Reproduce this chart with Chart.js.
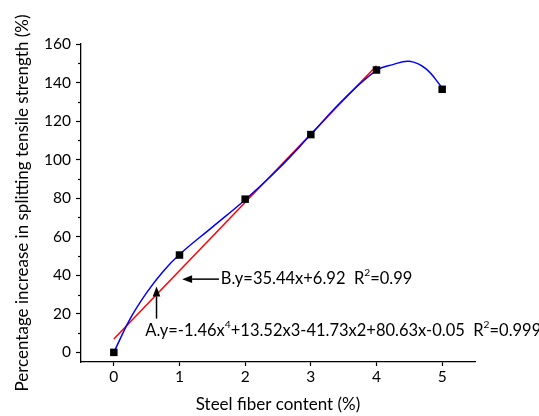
<!DOCTYPE html>
<html><head><meta charset="utf-8">
<script src="https://cdn.jsdelivr.net/npm/chart.js@4/dist/chart.umd.min.js"></script>
<style>html,body{margin:0;padding:0;background:#fff}#wrap{width:539px;height:416px}</style>
</head><body><div id="wrap"><canvas id="c" width="539" height="416"></canvas></div>
<script>
// Measured data points
const fiberContent = [0, 1, 2, 3, 4, 5];
const strengthIncrease = [0, 50.5, 79.5, 113, 146.5, 136.5];
// Curve A (polynomial fit)
const polyFitX = [0, 0.25, 0.5, 0.75, 1, 1.5, 2, 2.5, 3, 3.5, 4, 4.25, 4.5, 4.75, 5];
const polyFitY = [0, 17.5, 31, 42, 50.8, 65, 79.2, 95, 113, 131.3, 146.3, 149.3, 151, 147.2, 137.3];
// Line B (linear fit) end points
const linearFitX = [0, 4];
const linearFitY = [6.9, 148.7];
// Axis ticks
const xTickValues = [0, 1, 2, 3, 4, 5];
const yTickValues = [0, 20, 40, 60, 80, 100, 120, 140, 160];
const yMinorTickValues = [10, 30, 50, 70, 90, 110, 130, 150];
// Annotation texts
const labelB = [{t:'B.y=35.44x+6.92  R'},{t:'2',sup:true},{t:'=0.99'}];
const labelA = [{t:'A.y=-1.46x'},{t:'4',sup:true},{t:'+13.52x3-41.73x2+80.63x-0.05  R'},{t:'2',sup:true},{t:'=0.999'}];

const FONT = 'Lato';

function drawRich(ctx, parts, x, y, size) {
  ctx.textBaseline = 'middle';
  ctx.textAlign = 'left';
  ctx.fillStyle = '#000';
  let cx = x;
  for (const p of parts) {
    if (p.sup) {
      ctx.font = (size * 0.62) + 'px ' + FONT;
      ctx.fillText(p.t, cx, y - size * 0.36);
    } else {
      ctx.font = size + 'px ' + FONT;
      ctx.fillText(p.t, cx, y);
    }
    cx += ctx.measureText(p.t).width;
  }
}
function arrow(ctx, x1, y1, x2, y2) {
  const ang = Math.atan2(y2 - y1, x2 - x1);
  const hl = 10, hw = 3.8;
  ctx.strokeStyle = '#000'; ctx.fillStyle = '#000'; ctx.lineWidth = 1.5;
  ctx.beginPath();
  ctx.moveTo(x1, y1);
  ctx.lineTo(x2 - Math.cos(ang) * hl, y2 - Math.sin(ang) * hl);
  ctx.stroke();
  ctx.beginPath();
  ctx.moveTo(x2, y2);
  ctx.lineTo(x2 - Math.cos(ang) * hl - Math.sin(ang) * hw, y2 - Math.sin(ang) * hl + Math.cos(ang) * hw);
  ctx.lineTo(x2 - Math.cos(ang) * hl + Math.sin(ang) * hw, y2 - Math.sin(ang) * hl - Math.cos(ang) * hw);
  ctx.closePath();
  ctx.fill();
}

const extras = {
  id: 'extras',
  afterDraw(chart) {
    const ctx = chart.ctx, xs = chart.scales.x, ys = chart.scales.y;
    ctx.save();
    ctx.strokeStyle = '#000'; ctx.lineWidth = 1.2;
    for (const v of yMinorTickValues) {
      const py = Math.round(ys.getPixelForValue(v)) + 0.5;
      ctx.beginPath(); ctx.moveTo(xs.left - 3, py); ctx.lineTo(xs.left, py); ctx.stroke();
    }
    arrow(ctx, xs.getPixelForValue(1.6), ys.getPixelForValue(38), xs.getPixelForValue(1.04), ys.getPixelForValue(38));
    drawRich(ctx, labelB, xs.getPixelForValue(1.63), ys.getPixelForValue(38.3), 16.5);
    arrow(ctx, xs.getPixelForValue(0.65), ys.getPixelForValue(17.5), xs.getPixelForValue(0.65), ys.getPixelForValue(34.2));
    drawRich(ctx, labelA, xs.getPixelForValue(0.48), ys.getPixelForValue(11.3), 16.5);
    ctx.restore();
  }
};

new Chart(document.getElementById('c'), {
  type: 'scatter',
  data: {
    datasets: [
      { label: 'B', data: linearFitX.map((x, i) => ({x, y: linearFitY[i]})), showLine: true,
        borderColor: '#ff0000', borderWidth: 1.5, pointRadius: 0, order: 3 },
      { label: 'A', data: polyFitX.map((x, i) => ({x, y: polyFitY[i]})), showLine: true,
        borderColor: '#0000ff', borderWidth: 1.5, pointRadius: 0, tension: 0.4, order: 2 },
      { label: 'Measured', data: fiberContent.map((x, i) => ({x, y: strengthIncrease[i]})),
        pointStyle: 'rect', pointRadius: 5.3, backgroundColor: '#000', borderColor: '#000', borderWidth: 0, order: 1 }
    ]
  },
  options: {
    responsive: false, animation: false, devicePixelRatio: 1,
    layout: { padding: { top: 44, right: 64, bottom: 0, left: 0 } },
    plugins: { legend: { display: false }, tooltip: { enabled: false } },
    scales: {
      x: {
        type: 'linear', min: -0.5, max: 5.5,
        afterBuildTicks: s => { s.ticks = xTickValues.map(v => ({value: v})); },
        afterFit: s => { s.height = 54; },
        grid: { drawOnChartArea: false, drawTicks: true, tickLength: 4, tickColor: '#000', tickWidth: 1.2 },
        border: { display: true, color: '#000', width: 1.3 },
        ticks: { color: '#000', font: { family: FONT, size: 15.5 }, padding: 2 },
        title: { display: true, text: 'Steel fiber content (%)', color: '#000', font: { family: FONT, size: 17 }, padding: { top: 1, bottom: 1 } }
      },
      y: {
        type: 'linear', min: -5, max: 160,
        afterBuildTicks: s => { s.ticks = yTickValues.map(v => ({value: v})); },
        afterFit: s => { s.width = 81; },
        grid: { drawOnChartArea: false, drawTicks: true, tickLength: 5, tickColor: '#000', tickWidth: 1.2 },
        border: { display: true, color: '#000', width: 1.3 },
        ticks: { color: '#000', font: { family: FONT, size: 15.5 }, padding: 5 },
        title: { display: true, text: 'Percentage increase in splitting tensile strength (%)', color: '#000', font: { family: FONT, size: 17 }, padding: { top: 12.5, bottom: 12.5 } }
      }
    }
  },
  plugins: [extras]
});
</script>
</body></html>
